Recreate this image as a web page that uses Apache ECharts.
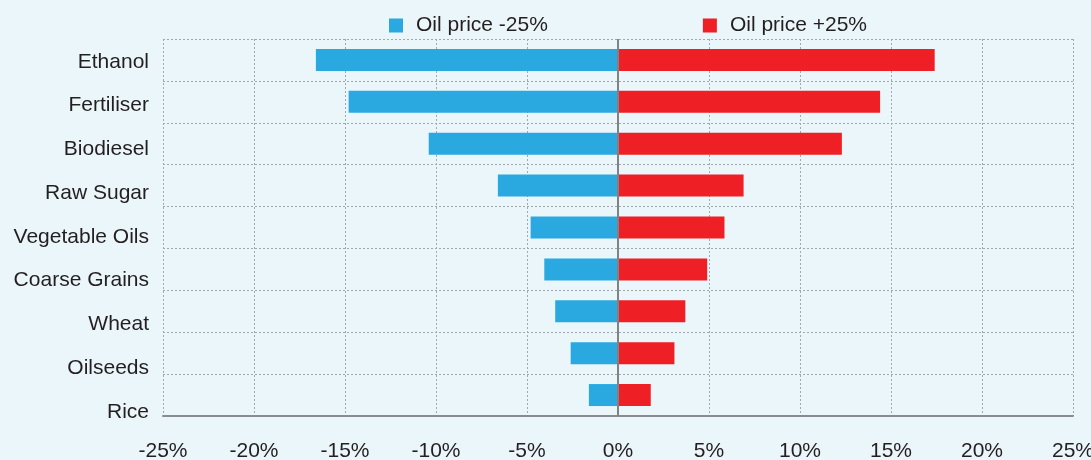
<!DOCTYPE html>
<html>
<head>
<meta charset="utf-8">
<script src="https://cdn.jsdelivr.net/npm/echarts@6/dist/echarts.min.js"></script>
<style>
  html, body { margin: 0; padding: 0; background: #ebf6fb; }
  #chart { width: 1091px; height: 460px; }
</style>
</head>
<body>
<div id="chart"></div>
<script>
const categories = ['Ethanol', 'Fertiliser', 'Biodiesel', 'Raw Sugar', 'Vegetable Oils', 'Coarse Grains', 'Wheat', 'Oilseeds', 'Rice']
const oilDown = [-16.6, -14.8, -10.4, -6.6, -4.8, -4.05, -3.45, -2.6, -1.6]
const oilUp = [17.4, 14.4, 12.3, 6.9, 5.85, 4.9, 3.7, 3.1, 1.8]
const xTicks = { min: -25, max: 25, step: 5 }

const chart = echarts.init(document.getElementById('chart'))
const font = 'Liberation Sans, Arial, Helvetica, sans-serif'
const dotted = { color: '#a3a8aa', width: 1, type: [2, 2] }

// the category names in the original sit on a slightly looser pitch than the bars
const labelRich = {}
categories.forEach((c, i) => {
  labelRich['r' + i] = { fontSize: 21, color: '#231f20', padding: [2 * (2 + 1.85 * i), 0, 0, 0] }
})

chart.setOption({
  backgroundColor: '#ebf6fb',
  animation: false,
  textStyle: { fontFamily: font },
  legend: {
    left: 384,
    top: 10,
    icon: 'rect',
    itemWidth: 14,
    itemHeight: 14,
    itemGap: 155,
    textStyle: { fontSize: 21, color: '#231f20', padding: [0, 0, 0, 8] },
    data: ['Oil price -25%', 'Oil price +25%'],
  },
  grid: { left: 163, right: 18, top: 39, bottom: 44, outerBoundsMode: 'none' },
  xAxis: {
    type: 'value',
    min: xTicks.min,
    max: xTicks.max,
    interval: xTicks.step,
    axisLine: { show: true, lineStyle: { color: '#8a8d8f', width: 2 } },
    axisTick: { show: false },
    axisLabel: { formatter: '{value}%', fontSize: 21, color: '#231f20', margin: 25 },
    splitLine: { show: true, lineStyle: dotted },
  },
  yAxis: {
    type: 'category',
    inverse: true,
    data: categories,
    axisLine: { show: false },
    axisTick: { show: false },
    axisLabel: {
      fontSize: 21,
      color: '#231f20',
      margin: 14,
      formatter: (v, i) => `{r${i}|${v}}`,
      rich: labelRich,
    },
    splitLine: { show: true, lineStyle: dotted },
  },
  series: [
    {
      name: 'Oil price -25%',
      type: 'bar',
      stack: 'total',
      barWidth: 22,
      itemStyle: { color: '#2aa9e1' },
      data: oilDown,
      markLine: {
        silent: true,
        symbol: 'none',
        label: { show: false },
        lineStyle: { color: '#808285', width: 2, type: 'solid' },
        data: [{ xAxis: 0 }],
      },
    },
    {
      name: 'Oil price +25%',
      type: 'bar',
      stack: 'total',
      barWidth: 22,
      itemStyle: { color: '#ee1f25' },
      data: oilUp,
    },
  ],
})
</script>
</body>
</html>
